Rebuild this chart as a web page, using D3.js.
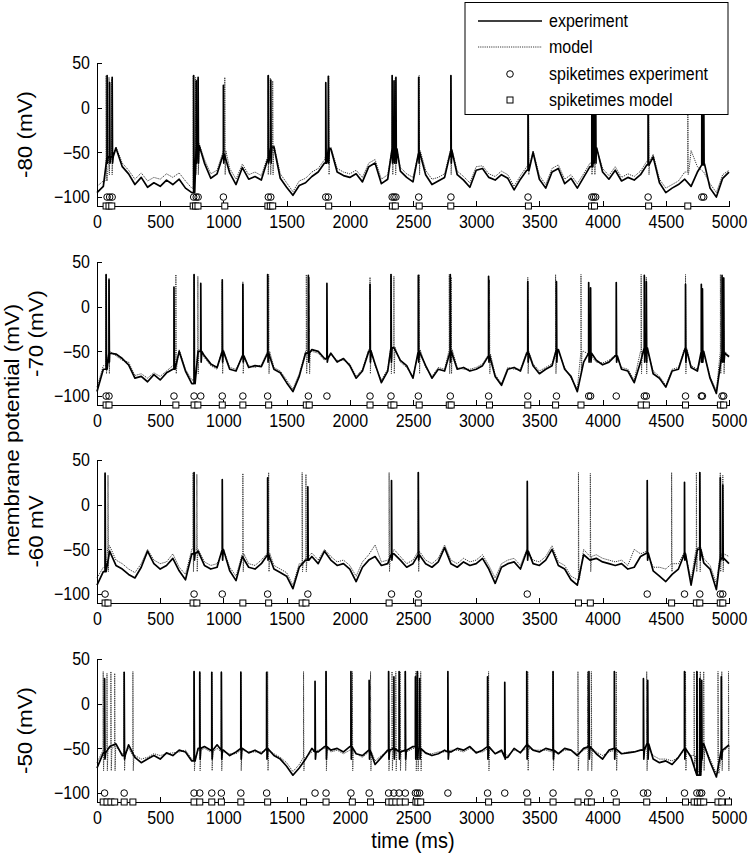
<!DOCTYPE html>
<html>
<head>
<meta charset="utf-8">
<script src="https://cdn.jsdelivr.net/npm/d3@7"></script>
<style>
  body { margin: 0; background: #fff; }
  text { font-family: "Liberation Sans", Arial, sans-serif; fill: #000; }
</style>
</head>
<body>
<div id="chart"></div>
<script>
// voltage traces sampled every 50 ms (0..5000), spikes as [time, peak]
var sampleStep = 50;
var xTicks = [0, 500, 1000, 1500, 2000, 2500, 3000, 3500, 4000, 4500, 5000];
var yTicks = [-100, -50, 0, 50];
var holdLabels = ["-80 (mV)", "-70 (mV)", "-60 mV", "-50 (mV)"];
var legendLabels = ["experiment", "model", "spiketimes experiment", "spiketimes model"];

// panel 1: holding -80 mV
var expV1 = [
  -95, -88, -55, -45, -66, -74, -86, -78, -89, -84,
  -88, -81, -86, -80, -90, -95, -42, -62, -79, -74,
  -52, -73, -86, -67, -80, -77, -81, -58, -44, -79,
  -89, -98, -87, -84, -77, -72, -62, -46, -72, -76,
  -78, -74, -83, -66, -62, -85, -80, -46, -71, -78,
  -83, -50, -75, -86, -82, -78, -48, -75, -81, -89,
  -70, -68, -78, -81, -75, -79, -92, -80, -70, -50,
  -80, -90, -72, -68, -85, -79, -90, -78, -66, -45,
  -72, -80, -70, -82, -78, -81, -75, -64, -55, -84,
  -95, -90, -86, -80, -88, -72, -64, -90, -100, -79,
  -72];
var modelV1 = [
  -88, -82, -52, -44, -62, -70, -80, -73, -82, -78,
  -80, -74, -78, -73, -82, -90, -40, -58, -74, -70,
  -48, -68, -80, -63, -75, -72, -76, -55, -42, -74,
  -84, -94, -82, -79, -72, -68, -58, -44, -68, -72,
  -74, -70, -78, -62, -58, -80, -75, -44, -67, -74,
  -78, -48, -70, -80, -78, -74, -46, -71, -77, -84,
  -66, -65, -74, -77, -71, -75, -88, -76, -66, -48,
  -76, -86, -68, -64, -80, -75, -85, -74, -62, -44,
  -68, -76, -66, -78, -74, -77, -71, -60, -52, -80,
  -90, -86, -82, -72, -48, -66, -72, -85, -95, -75,
  -70];
var expSpikes1 = [[80, 36], [100, 28], [120, 34], [765, 36], [785, 30], [800, 34], [1000, 25],
  [1355, 36], [1375, 31], [1810, 28], [1830, 35], [2335, 36], [2350, 30], [2365, 34],
  [2545, 34], [2800, 36], [3410, 34], [3915, 36], [3930, 32], [3945, 34], [4360, 34],
  [4785, 33], [4800, 30]];
var modelSpikes1 = [[72, 36], [95, 34], [117, 32], [761, 36], [780, 34], [799, 32], [1011, 34],
  [1352, 36], [1371, 33], [1390, 30], [1833, 36], [2337, 36], [2360, 33], [2549, 36],
  [2799, 36], [3413, 36], [3913, 36], [3936, 33], [4364, 36], [4674, 36]];

// panel 2: holding -70 mV
var expV2 = [
  -95, -70, -52, -53, -58, -65, -80, -78, -84, -76,
  -82, -74, -70, -50, -72, -86, -50, -55, -64, -68,
  -50, -70, -72, -55, -68, -66, -67, -52, -70, -74,
  -85, -95, -78, -52, -48, -50, -58, -52, -62, -58,
  -66, -80, -72, -50, -64, -85, -72, -46, -60, -66,
  -80, -50, -66, -80, -70, -72, -50, -70, -68, -72,
  -70, -66, -55, -78, -88, -70, -68, -72, -52, -66,
  -75, -70, -66, -48, -70, -78, -95, -62, -52, -60,
  -65, -62, -55, -70, -72, -85, -62, -46, -75, -80,
  -90, -72, -70, -48, -68, -72, -50, -80, -97, -52,
  -56];
var modelV2 = [
  -90, -66, -50, -55, -60, -62, -77, -75, -80, -74,
  -78, -72, -66, -48, -70, -82, -48, -57, -66, -70,
  -48, -68, -70, -56, -66, -68, -65, -50, -68, -72,
  -82, -92, -75, -50, -50, -52, -60, -54, -60, -60,
  -64, -78, -70, -48, -66, -82, -70, -45, -62, -68,
  -78, -48, -68, -78, -68, -70, -48, -68, -70, -70,
  -68, -64, -53, -76, -86, -68, -70, -70, -50, -64,
  -72, -68, -64, -50, -68, -80, -92, -50, -54, -62,
  -63, -60, -54, -68, -70, -82, -50, -48, -72, -78,
  -88, -70, -68, -46, -66, -70, -52, -78, -94, -50,
  -55];
var expSpikes2 = [[72, 36], [95, 30], [609, 22], [768, 36], [821, 26], [991, 30], [1154, 25],
  [1350, 36], [1672, 35], [1819, 26], [2160, 25], [2326, 36], [2542, 35], [2795, 36],
  [3098, 34], [3408, 28], [3635, 28], [3890, 27], [3905, 21], [4108, 27], [4330, 35],
  [4346, 28], [4656, 25], [4781, 25], [4790, 20], [4945, 35], [4958, 32]];
var modelSpikes2 = [[72, 36], [95, 32], [624, 36], [768, 36], [798, 34], [991, 28], [1154, 28],
  [1358, 36], [1656, 36], [1679, 33], [2160, 33], [2326, 36], [2349, 34], [2549, 36],
  [2787, 36], [2802, 33], [3105, 30], [3408, 33], [3628, 36], [3829, 36], [4305, 36],
  [4346, 33], [4656, 36], [4932, 36], [4958, 33]];

// panel 3: holding -60 mV
var expV3 = [
  -90, -75, -52, -68, -72, -78, -82, -70, -52, -66,
  -72, -68, -60, -74, -84, -55, -52, -68, -72, -70,
  -50, -74, -85, -58, -70, -72, -66, -56, -72, -76,
  -80, -94, -70, -62, -58, -66, -52, -62, -68, -66,
  -72, -86, -70, -62, -58, -68, -66, -55, -62, -70,
  -66, -56, -66, -70, -64, -48, -66, -70, -64, -68,
  -66, -60, -72, -88, -70, -66, -64, -72, -52, -66,
  -68, -62, -50, -68, -72, -84, -90, -56, -62, -60,
  -64, -66, -68, -66, -72, -70, -58, -54, -74, -80,
  -86, -78, -72, -55, -90, -50, -65, -72, -95, -60,
  -66];
var modelV3 = [
  -82, -70, -46, -62, -66, -72, -76, -66, -50, -62,
  -66, -64, -55, -70, -78, -50, -50, -64, -68, -66,
  -50, -70, -80, -55, -66, -68, -62, -54, -68, -72,
  -76, -90, -66, -60, -54, -62, -50, -58, -64, -62,
  -68, -80, -64, -56, -45, -64, -62, -50, -58, -66,
  -62, -52, -62, -66, -60, -45, -62, -66, -60, -64,
  -62, -56, -68, -82, -66, -62, -60, -68, -50, -62,
  -64, -58, -46, -64, -68, -80, -84, -50, -58, -56,
  -60, -62, -64, -62, -68, -50, -55, -52, -70, -70,
  -72, -66, -66, -52, -84, -48, -60, -68, -88, -55,
  -58];
var expSpikes3 = [[64, 35], [768, 36], [991, 28], [1350, 30], [1668, 20], [2330, 27],
  [2542, 36], [3404, 26], [4353, 27], [4648, 25], [4769, 36], [4931, 30], [4951, 22]];
var modelSpikes3 = [[64, 36], [87, 33], [760, 36], [790, 34], [1154, 35], [1358, 36],
  [1623, 36], [1653, 34], [2311, 36], [2542, 36], [3809, 36], [3903, 35], [4546, 36],
  [4742, 36], [4769, 36], [4931, 36], [4951, 33]];

// panel 4: holding -50 mV
var expV4 = [
  -72, -55, -48, -45, -58, -46, -60, -66, -62, -58,
  -62, -55, -58, -52, -54, -64, -50, -48, -52, -46,
  -52, -58, -54, -50, -55, -52, -56, -50, -58, -62,
  -70, -80, -72, -62, -50, -54, -48, -52, -50, -54,
  -48, -56, -58, -52, -68, -60, -52, -50, -54, -52,
  -48, -50, -55, -58, -56, -52, -54, -50, -52, -48,
  -55, -52, -48, -56, -52, -60, -50, -55, -46, -52,
  -54, -50, -52, -56, -50, -52, -58, -50, -48, -56,
  -62, -52, -50, -56, -55, -54, -52, -45, -62, -66,
  -64, -68, -60, -50, -60, -80, -45, -65, -82, -52,
  -46];
var modelV4 = [
  -66, -52, -50, -48, -56, -50, -58, -62, -60, -56,
  -58, -56, -55, -54, -52, -62, -52, -50, -54, -50,
  -54, -56, -56, -52, -54, -54, -54, -52, -56, -60,
  -66, -76, -68, -60, -54, -52, -50, -54, -52, -56,
  -52, -56, -60, -54, -64, -58, -54, -52, -52, -54,
  -50, -52, -56, -56, -54, -54, -52, -52, -54, -50,
  -54, -54, -50, -56, -54, -58, -52, -54, -50, -52,
  -52, -52, -54, -56, -52, -52, -56, -52, -50, -54,
  -58, -54, -52, -56, -54, -54, -52, -48, -58, -62,
  -62, -64, -60, -52, -58, -76, -48, -62, -78, -54,
  -48];
var expSpikes4 = [[60, 28], [215, 35], [768, 36], [813, 35], [908, 35], [984, 35], [1138, 35],
  [1342, 35], [1725, 25], [1812, 36], [2009, 36], [2153, 26], [2307, 36], [2349, 30],
  [2390, 36], [2439, 36], [2519, 30], [2534, 36], [2553, 28], [2776, 36], [3090, 30],
  [3226, 24], [3400, 36], [3608, 36], [3892, 36], [4093, 36], [4323, 28], [4357, 26],
  [4648, 36], [4746, 36], [4769, 28], [4784, 26], [4939, 30]];
var modelSpikes4 = [[49, 36], [79, 34], [110, 36], [140, 34], [215, 36], [284, 36], [768, 36],
  [813, 36], [908, 36], [984, 36], [1138, 36], [1350, 36], [1634, 36], [1812, 36],
  [2020, 36], [2164, 36], [2307, 36], [2334, 36], [2364, 36], [2398, 36], [2439, 36],
  [2523, 36], [2538, 36], [2561, 36], [3098, 36], [3408, 36], [3608, 36], [3805, 36],
  [3881, 36], [3911, 36], [4108, 36], [4349, 36], [4656, 36], [4724, 36], [4750, 36],
  [4773, 36], [4800, 36], [4913, 36], [4943, 36], [4996, 36]];

var panels = [
  { exp: expV1, model: modelV1, expSp: expSpikes1, modelSp: modelSpikes1, label: holdLabels[0] },
  { exp: expV2, model: modelV2, expSp: expSpikes2, modelSp: modelSpikes2, label: holdLabels[1] },
  { exp: expV3, model: modelV3, expSp: expSpikes3, modelSp: modelSpikes3, label: holdLabels[2] },
  { exp: expV4, model: modelV4, expSp: expSpikes4, modelSp: modelSpikes4, label: holdLabels[3] }
];

var width = 750, height = 856;
var left = 97, right = 729;
var panelTops = [63, 262, 460, 659];
var panelH = 143;
var stretch = 1.12;   // the original figure is slightly taller than wide

var svg = d3.select("#chart").append("svg")
  .attr("width", width)
  .attr("height", height);

var x = d3.scaleLinear().domain([0, 5000]).range([left, right]);

// build trace points: samples + spike excursions
function tracePoints(vals, spikes, trough) {
  var pts = vals.map(function(v, i) { return [i * sampleStep, v]; });
  spikes.forEach(function(s) {
    var base = vals[Math.min(vals.length - 1, Math.round(s[0] / sampleStep))];
    pts.push([s[0] - 0.5, base], [s[0], s[1]], [s[0] + 3, Math.min(trough, base + 10)], [s[0] + 8, base]);
  });
  pts.sort(function(a, b) { return a[0] - b[0]; });
  return pts;
}

panels.forEach(function(p, k) {
  var top = panelTops[k];
  var y = d3.scaleLinear().domain([-110, 50]).range([top + panelH, top]);
  var g = svg.append("g").attr("class", "panel");

  var line = d3.line()
    .x(function(d) { return x(d[0]); })
    .y(function(d) { return y(d[1]); });

  g.append("path")
    .attr("d", line(tracePoints(p.model, p.modelSp, -75)))
    .attr("fill", "none")
    .attr("stroke", "#3a3a3a")
    .attr("stroke-width", 1)
    .attr("stroke-dasharray", "1.2,1");

  g.append("path")
    .attr("d", line(tracePoints(p.exp, p.expSp, -62)))
    .attr("fill", "none")
    .attr("stroke", "#000")
    .attr("stroke-width", 1.7)
    .attr("stroke-linejoin", "round");

  // axes, ticks inward
  var xAxis = d3.axisBottom(x).tickValues(xTicks).tickFormat(d3.format("d"))
    .tickSizeInner(-5).tickSizeOuter(0).tickPadding(8);
  var yAxis = d3.axisLeft(y).tickValues(yTicks).tickFormat(d3.format("d"))
    .tickSizeInner(-5).tickSizeOuter(0).tickPadding(7);

  var gx = g.append("g")
    .attr("transform", "translate(0," + (top + panelH) + ")")
    .call(xAxis);
  var gy = g.append("g")
    .attr("transform", "translate(" + left + ",0)")
    .call(yAxis);
  [gx, gy].forEach(function(a) {
    a.selectAll("path, line").attr("stroke", "#000").attr("shape-rendering", "crispEdges");
    a.selectAll("text")
      .attr("font-size", 16)
      .attr("font-family", "Liberation Sans, Arial, sans-serif")
      .attr("fill", "#000")
      .attr("transform", "scale(1," + stretch + ")");
  });

  // spike markers
  g.selectAll("circle.sp").data(p.expSp).enter().append("circle")
    .attr("cx", function(d) { return x(d[0]); })
    .attr("cy", y(-100))
    .attr("r", 3.3)
    .attr("fill", "none")
    .attr("stroke", "#000")
    .attr("stroke-width", 1);

  g.selectAll("rect.sp").data(p.modelSp).enter().append("rect")
    .attr("x", function(d) { return x(d[0]) - 3; })
    .attr("y", y(-110) - 3)
    .attr("width", 6)
    .attr("height", 6)
    .attr("fill", "#fff")
    .attr("stroke", "#000")
    .attr("stroke-width", 1);

  // holding potential label
  var lx = (k === 0 || k === 3) ? 32 : 43;
  g.append("text")
    .attr("transform", "translate(" + lx + "," + (top + panelH / 2) + ") scale(1," + stretch + ") rotate(-90)")
    .attr("text-anchor", "middle")
    .attr("font-size", 20)
    .text(p.label);
});

svg.append("text")
  .attr("transform", "translate(19,430) scale(1," + stretch + ") rotate(-90)")
  .attr("text-anchor", "middle")
  .attr("font-size", 20)
  .text("membrane potential (mV)");

svg.append("text")
  .attr("transform", "translate(" + ((left + right) / 2) + ",848) scale(1," + stretch + ")")
  .attr("text-anchor", "middle")
  .attr("font-size", 20)
  .text("time (ms)");

// legend
var lg = svg.append("g");
lg.append("rect")
  .attr("x", 465).attr("y", 2.5)
  .attr("width", 263).attr("height", 112)
  .attr("fill", "#fff").attr("stroke", "#000").attr("stroke-width", 1);
var rowY = [21, 47, 74, 100];
lg.append("line").attr("x1", 478).attr("x2", 542).attr("y1", rowY[0]).attr("y2", rowY[0])
  .attr("stroke", "#000").attr("stroke-width", 1.5);
lg.append("line").attr("x1", 478).attr("x2", 542).attr("y1", rowY[1]).attr("y2", rowY[1])
  .attr("stroke", "#3a3a3a").attr("stroke-width", 1).attr("stroke-dasharray", "1.2,1");
lg.append("circle").attr("cx", 510).attr("cy", rowY[2]).attr("r", 3.3)
  .attr("fill", "none").attr("stroke", "#000");
lg.append("rect").attr("x", 507).attr("y", rowY[3] - 3).attr("width", 6).attr("height", 6)
  .attr("fill", "#fff").attr("stroke", "#000");
lg.selectAll("text.lab").data(legendLabels).enter().append("text")
  .attr("transform", function(d, i) { return "translate(549," + (rowY[i] + 6) + ") scale(1," + stretch + ")"; })
  .attr("font-size", 16)
  .text(function(d) { return d; });
</script>
</body>
</html>
